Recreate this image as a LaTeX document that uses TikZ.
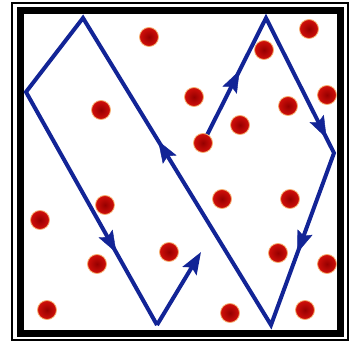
\documentclass[tikz,border=0pt]{standalone}
\usetikzlibrary{arrows.meta,decorations.markings}
\definecolor{rayblue}{RGB}{18,36,150}
\definecolor{dotin}{RGB}{150,0,0}
\definecolor{dotout}{RGB}{210,15,10}
\definecolor{dotrim}{RGB}{245,175,110}
\begin{document}
\begin{tikzpicture}[x=1pt,y=-1pt,
  ray/.style={draw=rayblue,line width=4pt,line join=miter},
  arrowat/.style={color=rayblue,decoration={markings,mark=at position #1 with {\arrow{Stealth[length=22pt,width=16pt,inset=4pt]}}},postaction={decorate}},
  ball/.style={circle,minimum size=19pt,inner sep=0pt,draw=dotrim,line width=0.8pt,shading=radial,inner color=dotin,outer color=dotout},
  rayend/.style={-{Stealth[length=22pt,width=16pt,inset=4pt]}}
]
\useasboundingbox (0,0) rectangle (355,344);
\fill[white] (0,0) rectangle (355,344);
% frame
\draw[line width=1.5pt] (12,3) rectangle (348,340);
\draw[line width=7pt] (20.5,10.5) rectangle (340,333.5);
% vertices
\coordinate (S) at (203,143);
\coordinate (F) at (266,18);
\coordinate (E) at (334,153);
\coordinate (D) at (271,325);
\coordinate (A) at (83,18);
\coordinate (B) at (26,92);
\coordinate (C) at (157,325);
\coordinate (T) at (201,252);
% ray path
\draw[ray] (S) -- (F) -- (E) -- (D) -- (A) -- (B) -- (C);
\draw[ray,rayend] (C) -- (T);
% direction arrows
\path[arrowat=0.58] (S) -- (F);
\path[arrowat=0.89] (F) -- (E);
\path[arrowat=0.58] (E) -- (D);
\path[arrowat=0.6] (D) -- (A);
\path[arrowat=0.69] (B) -- (C);
% dots
\node[ball] (d1) at (149,37) {};
\node[ball] (d2) at (101,110) {};
\node[ball] (d3) at (309,29) {};
\node[ball] (d4) at (264,50) {};
\node[ball] (d5) at (194,97) {};
\node[ball] (d6) at (327,95) {};
\node[ball] (d7) at (288,106) {};
\node[ball] (d8) at (240,125) {};
\node[ball] (d9) at (203,143) {};
\node[ball] (d10) at (105,205) {};
\node[ball] (d11) at (40,220) {};
\node[ball] (d12) at (97,264) {};
\node[ball] (d13) at (47,310) {};
\node[ball] (d14) at (169,252) {};
\node[ball] (d15) at (222,199) {};
\node[ball] (d16) at (290,199) {};
\node[ball] (d17) at (278,253) {};
\node[ball] (d18) at (327,264) {};
\node[ball] (d19) at (230,313) {};
\node[ball] (d20) at (305,310) {};
\end{tikzpicture}
\end{document}
